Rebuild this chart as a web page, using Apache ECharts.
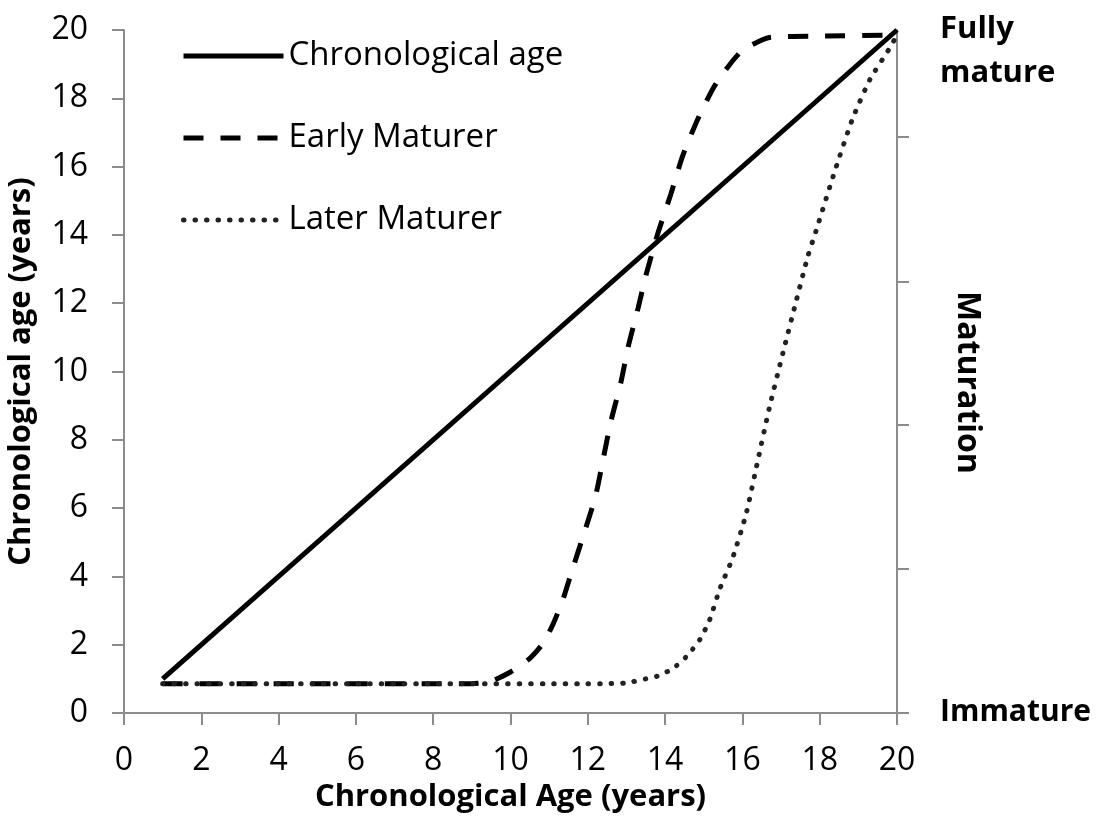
<!DOCTYPE html>
<html>
<head>
<meta charset="utf-8">
<script src="https://cdn.jsdelivr.net/npm/echarts@6/dist/echarts.min.js"></script>
<style>
  html, body { margin: 0; padding: 0; background: #fff; }
  #chart { width: 1104px; height: 825px; }
</style>
</head>
<body>
<div id="chart"></div>
<script>
// Chronological age: straight line
const chronoX = [1, 20];
const chronoY = [1, 20];

// Early maturer (dashed)
const earlyX = [1, 3, 5, 7, 9, 9.5, 10, 10.5, 10.85, 11.1, 11.35, 11.6, 11.9, 12.2, 12.4, 12.6, 12.85, 13.05, 13.3, 13.5, 13.8, 14.15, 14.45, 14.85, 15.3, 15.95, 16.7, 18, 20];
const earlyY = [0.86, 0.86, 0.86, 0.86, 0.86, 0.93, 1.2, 1.6, 2.05, 2.6, 3.3, 4.2, 5.25, 6.35, 7.45, 8.55, 9.65, 10.75, 11.85, 12.8, 14.0, 15.2, 16.3, 17.4, 18.4, 19.35, 19.78, 19.82, 19.85];

// Later maturer (dotted)
const laterX = [1, 4, 8, 12, 12.5, 13, 13.5, 13.8, 14.2, 14.55, 14.9, 15.15, 15.42, 15.75, 16.1, 16.4, 16.7, 17.05, 17.4, 17.7, 17.9, 18.4, 18.85, 19.3, 19.8, 20];
const laterY = [0.86, 0.86, 0.86, 0.86, 0.86, 0.88, 1.0, 1.08, 1.3, 1.65, 2.15, 2.72, 3.65, 4.55, 5.85, 7.4, 8.95, 10.55, 12.1, 13.4, 14.1, 15.9, 17.4, 18.55, 19.45, 19.85];

const seriesNames = ['Chronological age', 'Early Maturer', 'Later Maturer'];
const maturationTicks = [0, 4.21, 8.43, 12.64, 16.86];
const maturationLabels = ['Fully\nmature', 'Immature'];

const zip = (xs, ys) => xs.map((x, i) => [x, ys[i]]);

const FONT = 'Open Sans';
const axisGrey = '#8c8c8c';
const boldText = { fontFamily: FONT, fontSize: 31, fontWeight: 'bold', color: '#000' };

let chart = echarts.init(document.getElementById('chart'));

let option = {
    backgroundColor: '#fff',
    animation: false,
    textStyle: { fontFamily: FONT },
    grid: { left: 124, right: 207, top: 30, bottom: 112, outerBoundsMode: 'none' },
    legend: {
        orient: 'vertical',
        left: 176,
        top: 33,
        itemWidth: 100,
        itemHeight: 14,
        itemGap: 46,
        data: seriesNames,
        itemStyle: { color: 'rgba(0,0,0,0)', opacity: 0, borderWidth: 0 },
        lineStyle: { width: 'inherit', type: 'inherit', cap: 'inherit' },
        textStyle: { fontFamily: FONT, fontSize: 33, color: '#000', lineHeight: 36 }
    },
    xAxis: {
        type: 'value',
        min: 0,
        max: 20,
        interval: 2,
        name: 'Chronological Age (years)',
        nameLocation: 'middle',
        nameGap: 63,
        nameTextStyle: boldText,
        axisLine: { lineStyle: { color: axisGrey, width: 2 } },
        axisTick: { show: true, length: 12, lineStyle: { color: axisGrey, width: 2 } },
        axisLabel: { fontFamily: FONT, fontSize: 32, color: '#000', margin: 32 },
        splitLine: { show: false }
    },
    yAxis: [
        {
            type: 'value',
            min: 0,
            max: 20,
            interval: 2,
            name: 'Chronological age (years)',
            nameLocation: 'middle',
            nameGap: 87,
            nameTextStyle: boldText,
            axisLine: { show: true, lineStyle: { color: axisGrey, width: 2 } },
            axisTick: { show: true, length: 12, lineStyle: { color: axisGrey, width: 2 } },
            axisLabel: { fontFamily: FONT, fontSize: 32, color: '#000', margin: 36 },
            splitLine: { show: false }
        },
        {
            type: 'value',
            position: 'right',
            min: 0,
            max: 20,
            name: 'Maturation',
            nameLocation: 'middle',
            nameRotate: -90,
            nameGap: 54,
            nameTextStyle: { fontFamily: FONT, fontSize: 32, fontWeight: 'bold', color: '#000', padding: [0, 0, 0, 22] },
            axisLine: { show: true, lineStyle: { color: axisGrey, width: 2 } },
            axisTick: { show: true, length: 12, customValues: maturationTicks, lineStyle: { color: axisGrey, width: 2 } },
            axisLabel: { show: false },
            splitLine: { show: false }
        }
    ],
    series: [
        {
            name: seriesNames[0],
            type: 'line',
            data: zip(chronoX, chronoY),
            symbol: 'none',
            lineStyle: { color: '#000', width: 5 },
            itemStyle: { color: '#000' },
            z: 3
        },
        {
            name: seriesNames[1],
            type: 'line',
            data: zip(earlyX, earlyY),
            symbol: 'none',
            smooth: 0.2,
            lineStyle: { color: '#000', width: 5, type: [20, 17] },
            itemStyle: { color: '#000' },
            z: 2
        },
        {
            name: seriesNames[2],
            type: 'line',
            data: zip(laterX, laterY),
            symbol: 'none',
            smooth: 0.2,
            lineStyle: { color: '#222', width: 5, type: [0.5, 11], cap: 'round' },
            itemStyle: { color: '#222' },
            z: 2
        }
    ]
};

chart.setOption(option);

// Maturation end labels placed next to the right axis
const rightX = chart.convertToPixel({ gridIndex: 0 }, [20, 0])[0];
const topY = chart.convertToPixel({ yAxisIndex: 1 }, 20);
const bottomY = chart.convertToPixel({ yAxisIndex: 1 }, 0);
chart.setOption({
    graphic: [
        {
            type: 'text',
            left: rightX + 43,
            top: topY - 23,
            style: { text: maturationLabels[0], font: 'bold 31px "Open Sans"', fill: '#000', lineHeight: 44 }
        },
        {
            type: 'text',
            left: rightX + 43,
            top: bottomY - 16,
            style: { text: maturationLabels[1], font: 'bold 30px "Open Sans"', fill: '#000' }
        }
    ]
});
</script>
</body>
</html>
